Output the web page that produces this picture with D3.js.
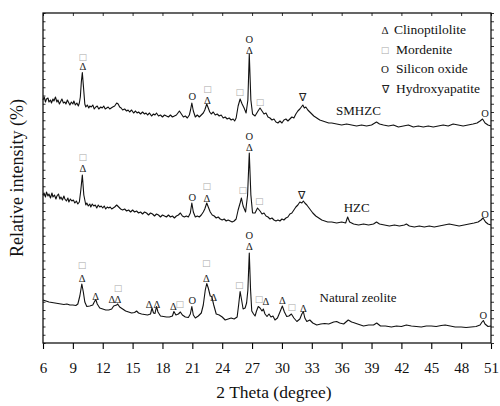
<!DOCTYPE html>
<html>
<head>
<meta charset="utf-8">
<script src="https://cdn.jsdelivr.net/npm/d3@7"></script>
<style>
  body { margin: 0; background: #fff; }
  svg { display: block; }
  text { font-family: "Liberation Serif", "Times New Roman", serif; }
</style>
</head>
<body>
<svg id="chart" width="500" height="406"></svg>
<script>
// 2-theta ticks
const xTicks = d3.range(6, 52, 3);

// traces: [2theta, relative intensity]
const smhzc = [
    [6.0, 243], [6.12, 246], [6.25, 241], [6.35, 244], [6.5, 245], [6.6, 241], [6.75, 243], [6.85, 240],
    [7.0, 244], [7.1, 242], [7.25, 246], [7.4, 241], [7.5, 243], [7.65, 239], [7.8, 242], [7.9, 244],
    [8.05, 240], [8.2, 241], [8.3, 239], [8.45, 243], [8.6, 240], [8.7, 238], [8.85, 241], [9.0, 239],
    [9.1, 242], [9.25, 238], [9.4, 240], [9.55, 237], [9.65, 240], [9.75, 246], [9.85, 261], [9.95, 270.5],
    [10.05, 258], [10.2, 239], [10.3, 236], [10.45, 238], [10.6, 235], [10.7, 237], [10.85, 236], [11.0, 238],
    [11.15, 234], [11.3, 236], [11.45, 237], [11.6, 234], [11.8, 236], [11.95, 235], [12.1, 237], [12.25, 234],
    [12.4, 235], [12.55, 236], [12.7, 234], [12.85, 235], [13.0, 236], [13.2, 237], [13.4, 240], [13.55, 239],
    [13.7, 236], [13.85, 235], [14.0, 233], [14.2, 234], [14.4, 232], [14.55, 233], [14.7, 231], [14.9, 233],
    [15.1, 230], [15.3, 232], [15.45, 230], [15.6, 231], [15.8, 229], [16.0, 231], [16.2, 229], [16.35, 230],
    [16.5, 228], [16.7, 230], [16.9, 227], [17.1, 229], [17.25, 228], [17.4, 230], [17.6, 227], [17.8, 228],
    [18.0, 226], [18.2, 228], [18.4, 227], [18.6, 226], [18.8, 228], [19.0, 226], [19.2, 227], [19.4, 228],
    [19.55, 230], [19.7, 232], [19.9, 229], [20.1, 226], [20.3, 227], [20.5, 225], [20.7, 228], [20.82, 233],
    [20.95, 240], [21.1, 232], [21.3, 226], [21.5, 228], [21.7, 226], [21.9, 228], [22.1, 230], [22.25, 233],
    [22.45, 239], [22.6, 235], [22.75, 231], [22.9, 229], [23.1, 231], [23.3, 228], [23.5, 229], [23.7, 227],
    [23.9, 228], [24.1, 225], [24.3, 226], [24.5, 224], [24.7, 225], [24.9, 223], [25.1, 224], [25.25, 222],
    [25.4, 225], [25.6, 237], [25.8, 244], [26.0, 239], [26.2, 235], [26.4, 230], [26.58, 243], [26.72, 289],
    [26.88, 243], [27.05, 229], [27.3, 227], [27.6, 232], [27.8, 235], [28.0, 232], [28.2, 229], [28.4, 230],
    [28.6, 226], [28.8, 225], [29.0, 223], [29.2, 224], [29.4, 221], [29.6, 220], [29.8, 222], [30.0, 220],
    [30.2, 223], [30.4, 224], [30.6, 222], [30.8, 224], [31.0, 226], [31.2, 225], [31.4, 229], [31.6, 232],
    [31.8, 234], [31.95, 236], [32.1, 238], [32.25, 235], [32.4, 236], [32.6, 233], [32.9, 230], [33.2, 227],
    [33.5, 225], [33.8, 223], [34.1, 222], [34.4, 221], [34.7, 220], [35.0, 220], [35.5, 219], [36.0, 218],
    [36.5, 219], [37.0, 218], [37.5, 217], [38.0, 218], [38.5, 217], [39.0, 218], [39.5, 221], [39.8, 219],
    [40.2, 218], [40.7, 217], [41.2, 218], [41.7, 216], [42.2, 217], [42.7, 218], [43.2, 216], [43.7, 217],
    [44.2, 216], [44.7, 217], [45.2, 216], [45.7, 217], [46.2, 218], [46.7, 217], [47.2, 219], [47.7, 218],
    [48.2, 217], [48.7, 218], [49.2, 219], [49.6, 220], [49.9, 222], [50.15, 224], [50.4, 220], [50.7, 218],
    [51.0, 217]
];

const hzc = [
    [6.0, 148], [6.1, 150], [6.25, 146], [6.35, 151], [6.5, 147], [6.6, 149], [6.75, 145], [6.9, 150],
    [7.0, 146], [7.15, 148], [7.3, 144], [7.4, 147], [7.55, 149], [7.7, 144], [7.8, 146], [7.95, 143],
    [8.1, 147], [8.2, 144], [8.35, 142], [8.5, 145], [8.6, 141], [8.75, 144], [8.9, 142], [9.05, 143],
    [9.2, 140], [9.35, 142], [9.5, 139], [9.65, 141], [9.8, 153], [9.95, 168], [10.1, 148], [10.3, 138],
    [10.4, 140], [10.55, 137], [10.7, 139], [10.8, 136], [10.95, 139], [11.1, 137], [11.25, 138], [11.4, 135],
    [11.55, 138], [11.7, 136], [11.85, 137], [12.0, 135], [12.15, 137], [12.3, 134], [12.45, 136], [12.6, 135],
    [12.75, 136], [12.9, 134], [13.05, 135], [13.2, 136], [13.4, 138], [13.6, 136], [13.8, 134], [14.0, 133],
    [14.2, 134], [14.4, 132], [14.6, 133], [14.8, 131], [15.0, 133], [15.2, 131], [15.4, 132], [15.6, 130],
    [15.8, 131], [16.0, 129], [16.2, 131], [16.4, 130], [16.6, 128], [16.8, 130], [17.0, 129], [17.2, 127],
    [17.4, 129], [17.6, 128], [17.8, 126], [18.0, 128], [18.2, 127], [18.4, 126], [18.6, 128], [18.8, 126],
    [19.0, 127], [19.2, 125], [19.4, 127], [19.6, 128], [19.8, 130], [20.0, 127], [20.2, 126], [20.4, 127],
    [20.6, 126], [20.8, 130], [20.95, 140], [21.1, 131], [21.3, 126], [21.5, 127], [21.7, 126], [21.9, 128],
    [22.1, 131], [22.25, 134], [22.45, 140], [22.6, 136], [22.8, 131], [23.0, 128], [23.2, 127], [23.4, 125],
    [23.6, 126], [23.8, 124], [24.0, 123], [24.2, 124], [24.4, 122], [24.6, 123], [24.8, 122], [25.0, 121],
    [25.2, 122], [25.4, 124], [25.6, 133], [25.8, 140], [25.93, 145], [26.1, 137], [26.35, 131], [26.55, 148],
    [26.72, 190], [26.88, 148], [27.05, 130], [27.3, 130], [27.55, 135], [27.8, 132], [28.0, 129], [28.2, 130],
    [28.4, 127], [28.6, 126], [28.8, 124], [29.0, 125], [29.2, 123], [29.4, 122], [29.6, 123], [29.8, 122],
    [30.0, 124], [30.2, 123], [30.4, 125], [30.6, 126], [30.8, 129], [31.0, 130], [31.2, 133], [31.4, 136],
    [31.6, 138], [31.8, 141], [32.0, 140], [32.15, 142], [32.3, 140], [32.5, 138], [32.8, 134], [33.1, 130],
    [33.4, 127], [33.7, 125], [34.0, 123], [34.3, 122], [34.6, 121], [35.0, 121], [35.5, 120], [36.0, 121],
    [36.4, 120], [36.6, 126], [36.8, 121], [37.2, 119], [37.7, 118], [38.2, 119], [38.7, 118], [39.2, 119],
    [39.5, 121], [39.8, 119], [40.3, 118], [40.8, 117], [41.3, 118], [41.8, 117], [42.3, 118], [42.5, 119],
    [42.8, 117], [43.3, 116], [43.8, 117], [44.3, 116], [44.8, 117], [45.3, 116], [45.8, 117], [46.3, 118],
    [46.8, 119], [47.3, 118], [47.8, 117], [48.3, 118], [48.8, 119], [49.3, 120], [49.7, 121], [50.0, 123],
    [50.2, 125], [50.45, 121], [50.7, 119], [51.0, 118]
];

const natural = [
    [6.0, 43], [6.3, 42], [6.6, 41], [6.9, 40.5], [7.2, 40], [7.5, 39.5], [7.8, 39], [8.1, 38.5],
    [8.4, 39], [8.7, 38], [9.0, 38], [9.3, 37.5], [9.5, 39], [9.7, 47], [9.9, 59], [10.05, 51],
    [10.2, 41], [10.4, 36.5], [10.7, 37], [11.0, 38], [11.15, 41], [11.3, 43.5], [11.45, 39], [11.7, 35],
    [12.0, 34], [12.3, 33], [12.6, 33], [12.9, 34], [13.1, 37], [13.25, 37.5], [13.4, 38], [13.5, 39],
    [13.7, 36], [14.0, 34], [14.3, 32], [14.6, 31], [14.9, 30], [15.2, 30.5], [15.4, 32], [15.6, 30],
    [15.9, 29], [16.2, 28.5], [16.5, 28], [16.8, 29], [16.95, 35], [17.1, 30], [17.25, 29.5], [17.4, 36.5],
    [17.55, 31], [17.8, 27], [18.1, 26.5], [18.4, 26], [18.7, 26], [19.0, 27], [19.15, 31.5], [19.35, 28],
    [19.6, 29], [19.8, 31], [20.0, 28], [20.3, 26], [20.6, 25.5], [20.8, 29], [20.95, 36.5], [21.1, 28],
    [21.3, 25], [21.6, 27], [21.9, 30], [22.1, 38], [22.3, 53], [22.45, 59.5], [22.6, 55], [22.8, 47],
    [22.95, 46.5], [23.15, 38], [23.4, 29], [23.7, 28], [24.0, 26], [24.3, 23], [24.6, 24], [24.9, 25],
    [25.2, 24], [25.5, 26], [25.65, 38], [25.8, 51.5], [25.95, 43], [26.1, 34], [26.3, 35], [26.45, 40],
    [26.58, 53], [26.72, 90], [26.85, 53], [26.97, 32], [27.15, 29], [27.3, 27], [27.45, 32], [27.62, 36.5],
    [27.8, 35], [28.0, 32], [28.13, 34], [28.3, 29], [28.5, 26.5], [28.7, 29], [28.9, 26], [29.1, 27],
    [29.3, 23], [29.55, 25], [29.8, 31], [30.04, 37], [30.25, 31], [30.48, 26.5], [30.7, 27], [30.95, 29],
    [31.2, 25], [31.5, 21.5], [31.8, 24], [32.0, 29], [32.15, 31.5], [32.3, 25], [32.5, 21.5], [32.8, 23],
    [33.1, 20], [33.5, 18], [33.9, 19], [34.3, 19.5], [34.7, 19], [35.2, 21], [35.5, 21.5], [35.8, 20],
    [36.2, 19], [36.66, 23], [37.0, 21], [37.17, 20.5], [37.6, 19], [38.2, 17], [38.7, 18], [39.2, 18],
    [39.52, 20], [39.9, 17], [40.4, 17], [41.0, 16], [41.5, 17], [42.0, 16.5], [42.5, 18], [43.0, 17],
    [43.5, 16.5], [44.0, 16], [44.5, 17], [45.0, 17], [45.5, 16.5], [46.0, 17.5], [46.4, 18], [46.9, 17],
    [47.4, 16], [48.0, 16], [48.5, 15.5], [49.0, 16], [49.5, 16.5], [49.9, 18], [50.1, 21], [50.23, 22.5],
    [50.4, 19], [50.7, 16.5], [51.0, 17]
];

// phase marks: [2theta, level, phase]
const smhzcMarks = [
    [10.0, 286, 'M'], [10.0, 277, 'C'], [21.0, 246.5, 'S'], [22.52, 254, 'M'], [22.52, 243, 'C'],
    [25.76, 251.5, 'M'], [26.72, 304, 'S'], [26.72, 293, 'C'], [27.8, 241.5, 'M'], [32.08, 245.5, 'H'],
    [50.4, 229.5, 'S']
];
const hzcMarks = [
    [10.0, 186, 'M'], [10.0, 174.5, 'C'], [21.0, 146, 'S'], [22.45, 157, 'M'], [22.45, 145, 'C'],
    [26.06, 153, 'M'], [26.72, 207, 'S'], [26.72, 196, 'C'], [27.73, 142.5, 'M'], [31.98, 147.5, 'H'],
    [50.4, 129, 'S']
];
const naturalMarks = [
    [9.92, 78, 'M'], [9.92, 65, 'C'], [11.29, 47, 'C'], [13.53, 55, 'M'], [12.93, 44, 'C'],
    [13.53, 44, 'C'], [16.65, 39, 'C'], [17.45, 39, 'C'], [19.09, 37, 'C'], [19.73, 39.5, 'M'],
    [21.0, 42.5, 'S'], [22.4, 80, 'M'], [22.4, 65, 'C'], [23.15, 46, 'C'], [25.72, 58.5, 'M'],
    [26.72, 108, 'S'], [26.72, 97, 'C'], [27.7, 44.5, 'M'], [28.4, 41.5, 'C'], [30.04, 43, 'C'],
    [30.98, 36.5, 'M'], [32.15, 34.5, 'C'], [50.23, 27.5, 'S']
];

// sample names: [name, 2theta, level]
const sampleNames = [
    ['SMHZC', 37.69, 228],
    ['HZC', 37.51, 131],
    ['Natural zeolite', 37.64, 41]
];

const phaseKeys = ['C', 'M', 'S', 'H'];
const phaseNames = ['Clinoptilolite', 'Mordenite', 'Silicon oxide', 'Hydroxyapatite'];
const phaseSymbols = ['\u0394', '\u25A1', 'O', '\u2207'];

const margin = { top: 13, right: 9, bottom: 63, left: 43 };
const width = 500 - margin.left - margin.right;
const height = 406 - margin.top - margin.bottom;

const svg = d3.select('#chart');
const g = svg.append('g')
    .attr('transform', `translate(${margin.left},${margin.top})`);

const x = d3.scaleLinear().domain([6, 51]).range([0, width]);
const y = d3.scaleLinear().domain([0, 330]).range([height, 0]);
const yTicks = d3.range(0, 41).map(i => i * 330 / 40);

// axes
g.append('g')
    .attr('transform', `translate(0,${height})`)
    .call(d3.axisBottom(x).tickValues(xTicks).tickSize(6).tickSizeOuter(0).tickPadding(13))
    .call(a => a.select('.domain').remove())
    .call(a => a.selectAll('line').attr('stroke', '#000').attr('stroke-width', 1.1))
    .call(a => a.selectAll('text')
        .attr('fill', '#111')
        .style('font-size', '15px')
        .style('font-family', '"Liberation Serif", serif'));

g.append('g')
    .call(d3.axisTop(x).tickValues(xTicks).tickSize(-3).tickSizeOuter(0).tickFormat(''))
    .call(a => a.select('.domain').remove())
    .call(a => a.selectAll('line').attr('stroke', '#333'));

g.append('g')
    .call(d3.axisLeft(y).tickValues(yTicks).tickSize(-2.5).tickSizeOuter(0).tickFormat(''))
    .call(a => a.select('.domain').remove())
    .call(a => a.selectAll('line').attr('stroke', '#333'));

g.append('g')
    .attr('transform', `translate(${width},0)`)
    .call(d3.axisRight(y).tickValues(yTicks).tickSize(3).tickSizeOuter(0).tickFormat(''))
    .call(a => a.select('.domain').remove())
    .call(a => a.selectAll('line').attr('stroke', '#333'));

g.append('rect')
    .attr('width', width)
    .attr('height', height)
    .attr('fill', 'none')
    .attr('stroke', '#000')
    .attr('stroke-width', 1.2);

// traces
const line = d3.line()
    .x(d => x(d[0]))
    .y(d => y(d[1]));

[natural, hzc, smhzc].forEach(s => {
    g.append('path')
        .datum(s)
        .attr('d', line)
        .attr('fill', 'none')
        .attr('stroke', '#111')
        .attr('stroke-width', 1.1)
        .attr('stroke-linejoin', 'round');
});

// phase marks
function symbolOf(k) {
    return phaseSymbols[phaseKeys.indexOf(k)];
}

const marks = g.append('g').attr('class', 'marks');
[smhzcMarks, hzcMarks, naturalMarks].forEach(list => {
    marks.selectAll(null)
        .data(list)
        .enter().append('text')
        .attr('x', d => x(d[0]))
        .attr('y', d => y(d[1]))
        .attr('text-anchor', 'middle')
        .attr('dominant-baseline', 'central')
        .style('font-size', d => d[2] === 'M' ? '9px' : '10.5px')
        .style('font-family', d => d[2] === 'M' ? '"DejaVu Sans", sans-serif' : '"Liberation Serif", serif')
        .attr('fill', d => d[2] === 'M' ? '#aaa' : '#222')
        .text(d => symbolOf(d[2]));
});

// sample names
g.selectAll('.sample')
    .data(sampleNames)
    .enter().append('text')
    .attr('class', 'sample')
    .attr('x', d => x(d[1]))
    .attr('y', d => y(d[2]))
    .attr('text-anchor', 'middle')
    .attr('fill', '#111')
    .style('font-size', '13px')
    .text(d => d[0]);

// legend
const legend = g.append('g')
    .attr('transform', `translate(${342},${21})`);

const item = legend.selectAll('.item')
    .data(phaseKeys)
    .enter().append('g')
    .attr('class', 'item')
    .attr('transform', (d, i) => `translate(0,${i * 19.7})`);

item.append('text')
    .attr('x', 0)
    .attr('y', -4)
    .attr('text-anchor', 'middle')
    .attr('dominant-baseline', 'central')
    .style('font-size', d => d === 'M' ? '9px' : '11px')
    .style('font-family', d => d === 'M' ? '"DejaVu Sans", sans-serif' : '"Liberation Serif", serif')
    .attr('fill', d => d === 'M' ? '#aaa' : '#222')
    .text(d => symbolOf(d));

item.append('text')
    .attr('x', (d, i) => i === 0 ? 9 : 11)
    .attr('y', 0)
    .attr('fill', '#111')
    .style('font-size', '13.5px')
    .text((d, i) => phaseNames[i]);

// axis titles
svg.append('text')
    .attr('x', 274)
    .attr('y', 398)
    .attr('text-anchor', 'middle')
    .attr('fill', '#111')
    .style('font-size', '17.5px')
    .text('2 Theta (degree)');

svg.append('text')
    .attr('transform', 'translate(23,178) rotate(-90)')
    .attr('text-anchor', 'middle')
    .attr('fill', '#111')
    .style('font-size', '18px')
    .text('Relative intensity (%)');
</script>
</body>
</html>
